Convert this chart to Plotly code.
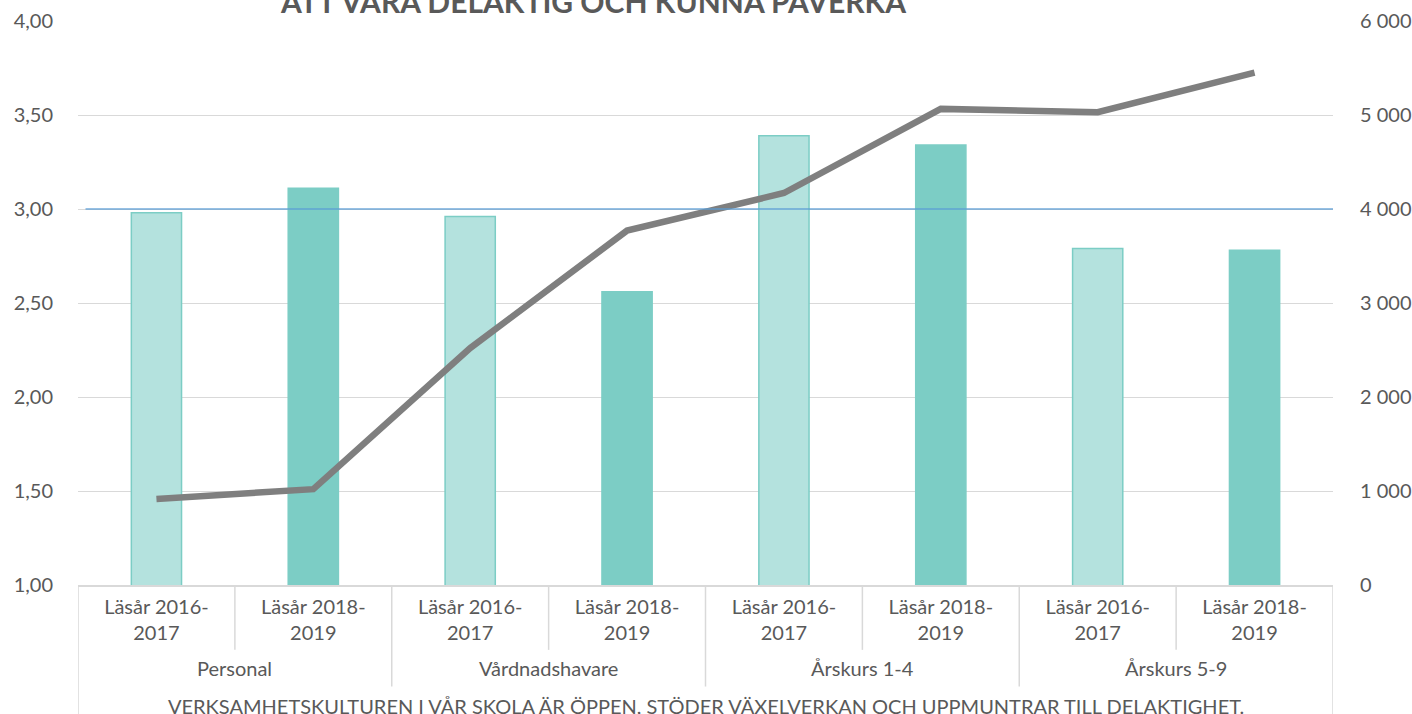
import plotly.graph_objects as go

# ---- data ----
years = ["Läsår 2016-<br>2017", "Läsår 2018-<br>2019"] * 4
groups = ["Personal", "Vårdnadshavare", "Årskurs 1-4", "Årskurs 5-9"]
mean_scores = [2.98, 3.11, 2.96, 2.56, 3.39, 3.34, 2.79, 2.78]
respondents = [915, 1020, 2520, 3770, 4170, 5065, 5030, 5450]
bar_colors = ["#B4E2DE", "#7CCDC5"] * 4
bar_lines = ["#7CCDC5", "#7CCDC5"] * 4
left_ticks = [1.0, 1.5, 2.0, 2.5, 3.0, 3.5, 4.0]
left_labels = ["1,00", "1,50", "2,00", "2,50", "3,00", "3,50", "4,00"]
right_ticks = [0, 1000, 2000, 3000, 4000, 5000, 6000]
right_labels = ["0", "1 000", "2 000", "3 000", "4 000", "5 000", "6 000"]
reference_value = 3.0
title_text = "ATT VARA DELAKTIG OCH KUNNA PÅVERKA"
question_text = "VERKSAMHETSKULTUREN I VÅR SKOLA ÄR ÖPPEN, STÖDER VÄXELVERKAN OCH UPPMUNTRAR TILL DELAKTIGHET."

FONT = "Lato, 'Open Sans', sans-serif"
GRAY = "#595959"
LINEC = "#D9D9D9"

x = list(range(len(mean_scores)))

fig = go.Figure()
fig.add_trace(go.Bar(
    x=x, y=mean_scores, width=0.32,
    marker=dict(color=bar_colors, line=dict(color=bar_lines, width=1.5)),
    yaxis="y", showlegend=False, hoverinfo="skip",
))
fig.add_trace(go.Scatter(
    x=x, y=respondents, mode="lines", yaxis="y2",
    line=dict(color="#7F7F7F", width=6.5),
    showlegend=False, hoverinfo="skip",
))

fig.update_layout(
    width=1412, height=714,
    margin=dict(l=78, r=79, t=21, b=129, autoexpand=False),
    paper_bgcolor="white", plot_bgcolor="white",
    font=dict(family=FONT, size=20, color=GRAY),
    bargap=0.68,
    xaxis=dict(
        range=[-0.5, 7.5], tickmode="array", tickvals=x, ticktext=years,
        showgrid=False, zeroline=False, showline=True, linecolor=LINEC, linewidth=1.5,
        ticks="outside", ticklen=3, tickcolor="rgba(0,0,0,0)", automargin=False,
        tickfont=dict(size=20, color=GRAY),
    ),
    yaxis=dict(
        range=[1, 4], tickmode="array", tickvals=left_ticks, ticktext=left_labels,
        showgrid=True, gridcolor=LINEC, gridwidth=1.3, zeroline=False, showline=False,
        ticks="outside", ticklen=20, tickcolor="rgba(0,0,0,0)", automargin=False,
        tickfont=dict(size=20, color=GRAY),
    ),
    yaxis2=dict(
        range=[0, 6000], overlaying="y", side="right", tickmode="array",
        tickvals=right_ticks, ticktext=right_labels,
        showgrid=False, zeroline=False, showline=False,
        ticks="outside", ticklen=22, tickcolor="rgba(0,0,0,0)", automargin=False,
        tickfont=dict(size=20, color=GRAY),
    ),
)

shapes = []
# reference line at 3,00
shapes.append(dict(type="line", xref="paper", yref="y", x0=0.006, x1=1, y0=reference_value,
                   y1=reference_value, line=dict(color="rgba(91,155,213,0.85)", width=1.5),
                   layer="above"))
# category separators
for i in range(1, 8):
    y1 = -0.115 if i % 2 == 1 else -0.18
    shapes.append(dict(type="line", xref="x", yref="paper", x0=i - 0.5, x1=i - 0.5, y0=0, y1=y1,
                       line=dict(color=LINEC, width=1.5)))
for xe in (-0.5, 7.5):
    shapes.append(dict(type="line", xref="x", yref="paper", x0=xe, x1=xe, y0=0, y1=-0.3,
                       line=dict(color=LINEC, width=1.5)))
fig.update_layout(shapes=shapes)

annotations = []
for gi, g in enumerate(groups):
    annotations.append(dict(text=g, xref="x", yref="paper", x=gi * 2 + 0.5, y=-0.147,
                            showarrow=False, yanchor="middle", font=dict(size=20, color=GRAY)))
annotations.append(dict(text=question_text, xref="paper", yref="paper", x=0.5, y=-0.215,
                        showarrow=False, yanchor="middle", font=dict(size=20, color=GRAY)))
annotations.append(dict(text="<b>" + title_text + "</b>", xref="paper", yref="paper", x=0.41, y=1.035,
                        showarrow=False, yanchor="middle", font=dict(size=30, color=GRAY)))
fig.update_layout(annotations=annotations)

fig.write_html("out.html", config={"displayModeBar": False},
               post_script="document.body.style.margin='0';document.body.style.overflow='hidden';")
